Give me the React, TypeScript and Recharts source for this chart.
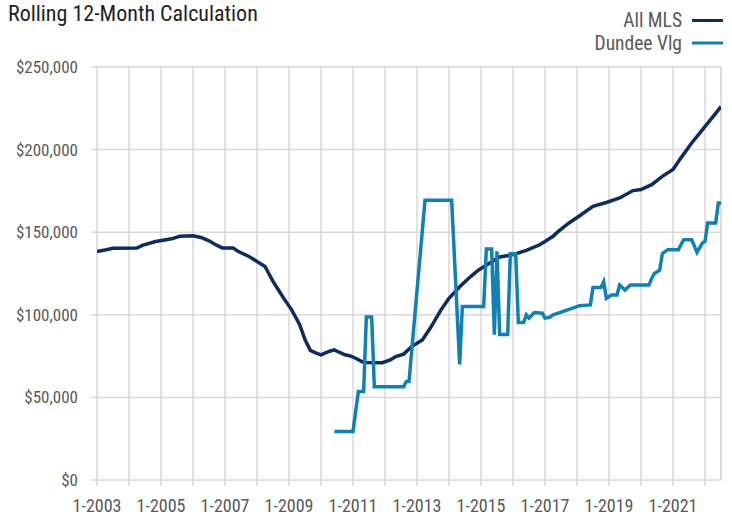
import { CartesianGrid, Line, LineChart, ReferenceLine, XAxis, YAxis } from "recharts";

// months counted from 1-2003 (0) to mid 2022
const END_MONTH = 234;

const mlsMonths = [
  0, 3, 6, 15, 17, 22, 28, 31, 36, 39, 42, 45, 47, 51, 53, 57, 60, 63, 66, 70, 73, 76, 78, 80, 82,
  84, 87, 89, 91, 93, 95, 97, 100, 107, 110, 112, 115, 118, 122, 125, 129, 132, 136, 140, 143, 147,
  151, 156, 161, 166, 168, 171, 173, 177, 181, 186, 191, 196, 201, 204, 208, 212, 216, 219, 223, 227,
  231, 234,
];
const mlsValues = [
  138300, 139200, 140300, 140400, 142000, 144400, 146000, 147500, 147900, 146800, 144800, 142000,
  140500, 140500, 138300, 135300, 132300, 129300, 120200, 110000, 103000, 94000, 85000, 78500, 77000,
  75800, 77800, 78800, 77200, 75800, 75100, 73700, 71100, 71000, 72700, 74700, 76200, 80800, 84800,
  92000, 103000, 110000, 117000, 123000, 127000, 131000, 135000, 136400, 139000, 142400, 144400,
  147500, 150500, 155600, 160000, 165600, 168000, 170700, 175200, 175800, 178800, 183800, 187900,
  195000, 204000, 212000, 220000, 226000,
];

const dundeeMonths = [
  89, 96, 98, 100, 101, 103, 104, 115, 116, 117, 123, 133, 136, 137, 145, 146, 148, 149, 150, 151,
  154, 155, 157, 158, 160, 161, 162, 164, 167, 168, 170, 171, 173, 181, 185, 186, 189, 190, 191, 193,
  195, 196, 198, 200, 207, 208, 209, 211, 212, 214, 218, 220, 223, 225, 227, 228, 229, 232, 233, 234,
];
const dundeeValues = [
  29300, 29300, 53500, 53500, 98600, 98600, 56500, 56500, 59600, 59600, 169300, 169300, 70000, 105000,
  105000, 139800, 139800, 88000, 138400, 88000, 88000, 137000, 137000, 95300, 95300, 100000, 98000,
  101400, 101000, 98000, 98600, 100000, 101000, 105500, 106000, 116500, 116500, 120000, 110000, 112000,
  112000, 118000, 115000, 118000, 118000, 122000, 125000, 127000, 137000, 139400, 139400, 145500,
  145500, 137800, 143400, 144400, 155600, 155600, 167700, 167700,
];

const yearTicks = [
  0, 12, 24, 36, 48, 60, 72, 84, 96, 108, 120, 132, 144, 156, 168, 180, 192, 204, 216, 228,
];
const yTicks = [0, 50000, 100000, 150000, 200000, 250000];

const mlsData = mlsMonths.map((m, i) => ({ m, v: mlsValues[i] }));
const dundeeData = dundeeMonths.map((m, i) => ({ m, v: dundeeValues[i] }));

const FONT = '"Liberation Sans Narrow", "Roboto Condensed", "DejaVu Sans Condensed", sans-serif';
const GRID = "#d9d9d9";
const LABEL = "#595959";
const NAVY = "#0c2d5e";
const BLUE = "#1180b5";

const xLabel = (m: number) => (m % 24 === 0 ? `1-${2003 + m / 12}` : "");
const yLabel = (v: number) => `$${v.toLocaleString("en-US")}`;

export default function App() {
  return (
    <div style={{ position: "absolute", left: 0, top: 0, width: 732, height: 515, background: "#fff" }}>
      <LineChart width={732} height={515} margin={{ top: 67, right: 11, bottom: 0, left: 0 }}>
        <CartesianGrid stroke={GRID} strokeWidth={1.5} />
        <XAxis
          type="number"
          dataKey="m"
          domain={[0, END_MONTH]}
          ticks={yearTicks}
          interval={0}
          tickFormatter={xLabel}
          axisLine={false}
          tickLine={{ stroke: GRID, strokeWidth: 1.5 }}
          tickSize={6}
          tickMargin={13}
          height={35}
          tick={{ fill: LABEL, fontSize: 18, fontFamily: FONT }}
          allowDataOverflow
        />
        <YAxis
          type="number"
          domain={[0, 250000]}
          ticks={yTicks}
          interval={0}
          tickFormatter={yLabel}
          axisLine={false}
          tickLine={{ stroke: GRID, strokeWidth: 1.5 }}
          tickSize={6}
          tickMargin={13}
          width={97}
          tick={{ fill: LABEL, fontSize: 17, fontFamily: FONT }}
        />
        <ReferenceLine x={END_MONTH} stroke={GRID} strokeWidth={1.5} />
        <Line
          data={mlsData}
          dataKey="v"
          type="linear"
          stroke={NAVY}
          strokeWidth={3.5}
          dot={false}
          isAnimationActive={false}
        />
        <Line
          data={dundeeData}
          dataKey="v"
          type="linear"
          stroke={BLUE}
          strokeWidth={3.5}
          dot={false}
          isAnimationActive={false}
        />
      </LineChart>
      <svg
        width={732}
        height={60}
        style={{ position: "absolute", left: 0, top: 0, pointerEvents: "none" }}
      >
        <text x={8} y={21} fontSize={22} fontFamily={FONT} fill="#1f1f1f">
          Rolling 12-Month Calculation
        </text>
        <text x={682} y={27} fontSize={19.5} fontFamily={FONT} fill={LABEL} textAnchor="end">
          All MLS
        </text>
        <line x1={692} x2={723} y1={20.5} y2={20.5} stroke={NAVY} strokeWidth={3} />
        <text x={682} y={49.5} fontSize={19.5} fontFamily={FONT} fill={LABEL} textAnchor="end">
          Dundee Vlg
        </text>
        <line x1={692} x2={723} y1={43} y2={43} stroke={BLUE} strokeWidth={3} />
      </svg>
    </div>
  );
}
